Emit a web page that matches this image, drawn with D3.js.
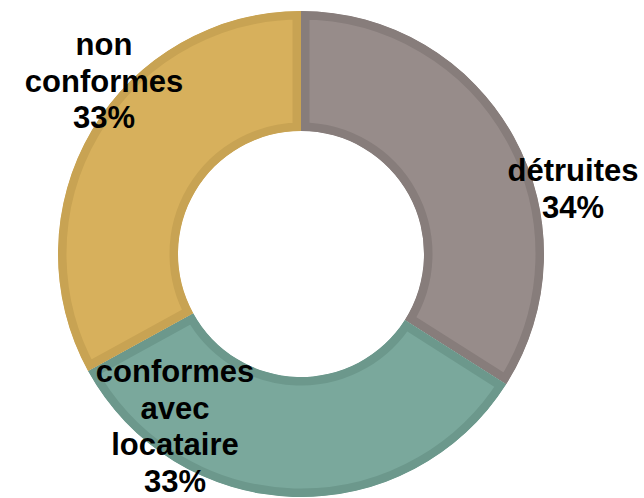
<!DOCTYPE html>
<html lang="en">
<head>
  <meta charset="utf-8">
  <script src="https://d3js.org/d3.v7.min.js"></script>
  <style>
    body { margin: 0; background: #fff; }
    .label { font: bold 31px "Liberation Sans", Arial, sans-serif; fill: #000; }
  </style>
</head>
<body>
<div id="chart"></div>
<script>
  // data
  var categories = ["détruites", "conformes avec locataire", "non conformes"];
  var values = [34, 33, 33];
  var labelLines = [["détruites", "34%"], ["conformes", "avec", "locataire", "33%"], ["non", "conformes", "33%"]];

  var fills = ["#978c8a", "#7aa89c", "#d7b05c"];
  var borders = ["#877d7b", "#6c988c", "#c8a353"];

  var width = 644, height = 498;
  var cx = 301, cy = 254, outerR = 243, innerR = 123;

  // label anchor (centre x, first baseline y), relative to chart centre
  var labelPos = [[272, -73], [-126, 128], [-197, -199]];
  var lineH = 36.5;

  var svg = d3.select("#chart").append("svg")
          .attr("width", width)
          .attr("height", height);

  var g = svg.append("g")
          .attr("transform", "translate(" + cx + "," + cy + ")");

  var pie = d3.pie().sort(null).value(function(d) { return d; });
  var arc = d3.arc().innerRadius(innerR).outerRadius(outerR);
  var arcs = pie(values);

  var defs = svg.append("defs");
  arcs.forEach(function(d, i) {
    defs.append("clipPath").attr("id", "clip" + i)
            .append("path").attr("d", arc(d));
  });

  g.selectAll("path.slice")
          .data(arcs)
          .enter().append("path")
          .attr("class", "slice")
          .attr("d", arc)
          .attr("clip-path", function(d, i) { return "url(#clip" + i + ")"; })
          .style("fill", function(d, i) { return fills[i]; })
          .style("stroke", function(d, i) { return borders[i]; })
          .style("stroke-width", 17)
          .style("stroke-linejoin", "miter");

  var labels = g.selectAll("text.label")
          .data(arcs)
          .enter().append("text")
          .attr("class", "label")
          .attr("text-anchor", "middle");

  labels.each(function(d, i) {
    var t = d3.select(this);
    labelLines[i].forEach(function(line, j) {
      t.append("tspan")
              .attr("x", labelPos[i][0])
              .attr("y", labelPos[i][1] + j * lineH)
              .text(line);
    });
  });
</script>
</body>
</html>
